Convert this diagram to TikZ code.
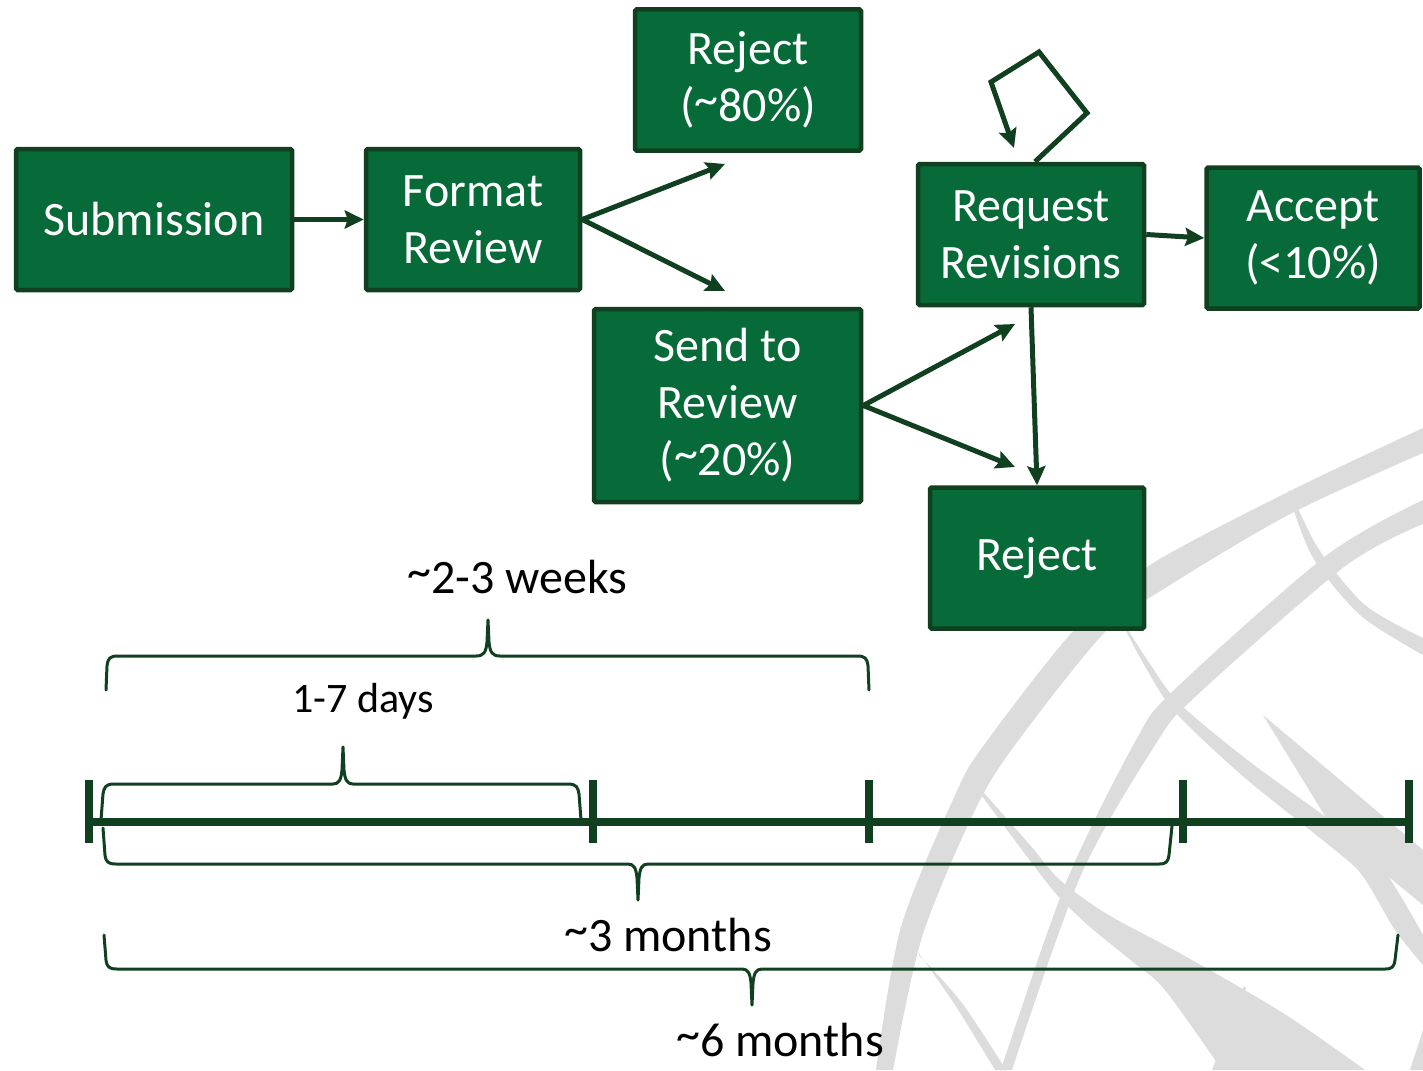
\documentclass[tikz,border=0pt]{standalone}
\usepackage{fontspec}
\setmainfont{Carlito}
\usetikzlibrary{arrows.meta}
\definecolor{gfill}{HTML}{076A39}
\definecolor{gdark}{HTML}{10401F}
\definecolor{wm}{HTML}{DCDCDC}
\newcommand\tld{\raisebox{0.13em}{\textasciitilde}}
\begin{document}
\begin{tikzpicture}[x=1pt,y=-1pt,
  box/.style={draw=gdark, fill=gfill, line width=4.5pt, rounded corners=1.5pt, text=white,
    font=\fontsize{48}{57}\selectfont, align=center, inner sep=0pt},
  conn/.style={draw=gdark, line width=5pt, line join=miter,
    -{Stealth[length=19pt,width=18pt,inset=3pt]}},
  brc/.style={draw=gdark, line width=3pt, line cap=round, line join=round},
  tl/.style={draw=gdark, line width=7.5pt},
  tick/.style={draw=gdark, line width=7.5pt},
  lbl/.style={font=\fontsize{48}{57}\selectfont, text=black, inner sep=0pt},
  small/.style={font=\fontsize{42}{50}\selectfont, text=black, inner sep=0pt}]
\useasboundingbox (0,0) rectangle (1423,1070);

% ---------- watermark globe ----------
\begin{scope}
\clip (0,0) rectangle (1423,1070);
% outer arc
\fill[wm] plot[smooth] coordinates {(1423,428) (1292,490) (1150,565) (1074,630) (984,745) (956,793) (901,927) (876,1070)}
  -- plot[smooth] coordinates {(893,1070) (922,937) (975,810) (1015,745) (1105,632) (1170,585) (1292,513) (1423,453)} -- cycle;
% second arc
\fill[wm] plot[smooth] coordinates {(1423,500) (1327,555) (1174,690) (1136,740) (1067,880) (1005,1057) (1001,1070)}
  -- plot[smooth] coordinates {(1012,1070) (1081,875) (1157,742) (1195,697) (1344,567) (1423,524)} -- cycle;
% curve A
\fill[wm] plot[smooth] coordinates {(1290,490) (1318,548) (1365,605) (1423,638)}
  -- plot[smooth] coordinates {(1423,655) (1360,615) (1312,556) (1288,492)} -- cycle;
% curve B
\fill[wm] plot[smooth] coordinates {(1128,630) (1150,664) (1180,704) (1250,762) (1340,828) (1385,872) (1423,935)}
  -- plot[smooth] coordinates {(1423,965) (1395,930) (1362,875) (1330,846) (1245,778) (1175,712) (1146,668) (1126,631)} -- cycle;
% wedge
\fill[wm] (1263,715) -- (1423,850) -- (1423,905) -- (1336,834) -- cycle;
% curve C
\fill[wm] plot[smooth] coordinates {(984,793) (1030,845) (1060,880) (1107,914) (1183,955) (1283,1013) (1365,1070)}
  -- plot[smooth] coordinates {(1222,1070) (1165,990) (1133,962) (1090,927) (1058,896) (1028,858) (982,796)} -- cycle;
% curve D
\fill[wm] plot[smooth] coordinates {(918,952) (955,1005) (995,1070)}
  -- plot[smooth] coordinates {(1006,1070) (962,1003) (919,955)} -- cycle;
% thin line F
\fill[wm] (1244,986) -- (1246,988) -- (1222,1070) -- (1212,1070) -- cycle;
% right edge lower
\fill[wm] (1423,1030) -- (1423,1070) -- (1410,1070) -- cycle;
\end{scope}

% ---------- flow nodes ----------
\node[box, minimum width=276pt, minimum height=141pt] (sub) at (154,219.5) {Submission};
\node[box, minimum width=214pt, minimum height=141pt] (fmt) at (473,219.5) {Format\\Review};
\node[box, minimum width=226pt, minimum height=141pt] (rej1) at (748,80) {Reject\\(\tld 80\%)};
\node[box, minimum width=267pt, minimum height=193pt] (send) at (727.5,405.5) {Send to\\Review\\(\tld 20\%)};
\node[box, minimum width=226pt, minimum height=141pt] (req) at (1031,234.5) {Request\\Revisions};
\node[box, minimum width=213pt, minimum height=141pt] (acc) at (1313,238) {Accept\\(<10\%)};
\node[box, minimum width=214pt, minimum height=141pt] (rej2) at (1037,558) {Reject};

% free arrow ends
\coordinate (t1) at (725,164);
\coordinate (t2) at (725,291);
\coordinate (t3) at (1015,324);
\coordinate (t4) at (1015,467);
\coordinate (l1) at (1087,113);
\coordinate (l2) at (1039,52);
\coordinate (l3) at (991,82);
\coordinate (l4) at (1014,148);

\draw[conn] (sub.east) -- (fmt.west);
\draw[conn] (fmt.east) -- (t1);
\draw[conn] (fmt.east) -- (t2);
\draw[conn] (send.east) -- (t3);
\draw[conn] (send.east) -- (t4);
\draw[conn] (req.south) -- (rej2.north);
\draw[conn] (req.east) -- (acc.west);
\draw[conn] ([xshift=4pt]req.north) -- (l1) -- (l2) -- (l3) -- (l4);

% ---------- timeline ----------
\coordinate (T0) at (89,822);
\coordinate (T1) at (593,822);
\coordinate (T2) at (869,822);
\coordinate (T3) at (1183,822);
\coordinate (T4) at (1409,822);
\draw[tl] (T0) -- (T4);
\foreach \c in {T0,T1,T2,T3,T4}
  \draw[tick] ([yshift=42pt]\c) -- ([yshift=-21pt]\c);

% ---------- braces ----------
\draw[brc] (106,690) -- (107,666) .. controls (108,658) and (110,656) .. (118,656) -- (476,656)
  .. controls (484,656) and (486,652) .. (487,642) -- (488,620) -- (489,642)
  .. controls (490,652) and (492,656) .. (500,656) -- (857,656)
  .. controls (865,656) and (867,658) .. (868,666) -- (869,690);
\draw[brc] (101,820) -- (103,794) .. controls (104,787) and (106,784) .. (114,784) -- (333,784)
  .. controls (339,784) and (341,780) .. (342,770) -- (343,747) -- (344,770)
  .. controls (345,780) and (347,784) .. (353,784) -- (568,784)
  .. controls (576,784) and (578,787) .. (579,794) -- (581,820);
\draw[brc] (103,828) -- (105,855) .. controls (106,862) and (108,864) .. (116,864) -- (628,864)
  .. controls (634,864) and (636,868) .. (637,878) -- (638,900) -- (639,878)
  .. controls (640,868) and (642,864) .. (648,864) -- (1159,864)
  .. controls (1166,864) and (1168,862) .. (1169,855) -- (1172,826);
\draw[brc] (104,935) -- (106,960) .. controls (107,967) and (109,969) .. (117,969) -- (742,969)
  .. controls (748,969) and (750,973) .. (751,983) -- (752,1005) -- (753,983)
  .. controls (754,973) and (756,969) .. (762,969) -- (1385,969)
  .. controls (1392,969) and (1394,967) .. (1395,960) -- (1398,935);

% ---------- labels ----------
\node[lbl] (w23) at (517.5,577) {\tld 2-3 weeks};
\node[small] (d17) at (363,701) {1-7 days};
\node[lbl] (m3) at (668,935) {\tld 3 months};
\node[lbl] (m6) at (780,1040) {\tld 6 months};
\end{tikzpicture}
\end{document}
